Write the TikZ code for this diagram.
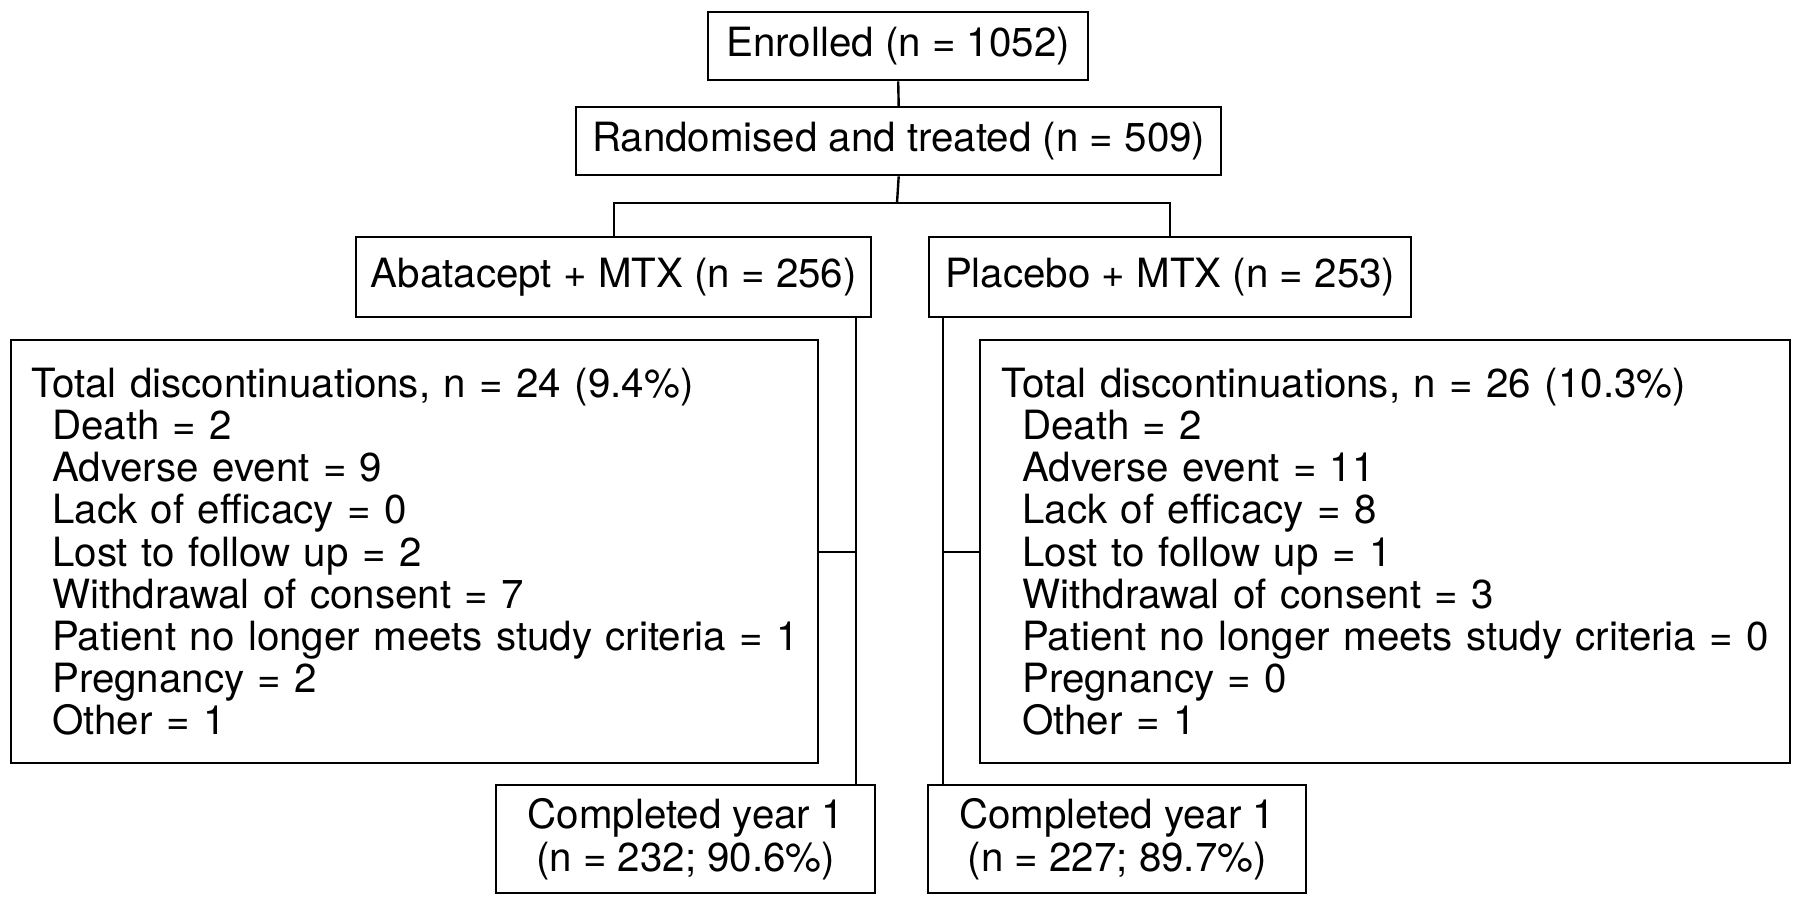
\documentclass[tikz,border=0pt]{standalone}
\usepackage{fontspec}
\setmainfont{TeX Gyre Heros}
\newcommand{\ind}[1]{\mbox{\hspace*{21pt}#1}}
\begin{document}
\begin{tikzpicture}[x=1pt,y=-1pt,
  box/.style={draw=black, line width=2.4pt, anchor=north west, inner sep=0pt,
    font=\fontsize{40.3pt}{42.1pt}\selectfont, align=center},
  discbox/.style={box, align=left, inner xsep=20pt},
  conn/.style={draw=black, line width=2.4pt}
]
\fill[white] (0,0) rectangle (1800,903);
\useasboundingbox (0,0) rectangle (1800,903);

\node[box, minimum width=380pt, minimum height=68pt] (enr) at (707,11) {Enrolled (n = 1052)};
\node[box, minimum width=645pt, minimum height=68pt] (rand) at (575,106) {Randomised and treated (n = 509)};
\node[box, minimum width=515pt, minimum height=80pt] (abat) at (355,236) {Abatacept + MTX (n = 256)};
\node[box, minimum width=482pt, minimum height=80pt] (plac) at (928,236) {Placebo + MTX (n = 253)};

\node[discbox, text width=767pt, minimum width=807pt, minimum height=423pt] (ldisc) at (10,339) {%
\mbox{Total discontinuations, n = 24 (9.4\%)}\\
\ind{Death = 2}\\
\ind{Adverse event = 9}\\
\ind{Lack of efficacy = 0}\\
\ind{Lost to follow up = 2}\\
\ind{Withdrawal of consent = 7}\\
\ind{Patient no longer meets study criteria = 1}\\
\ind{Pregnancy = 2}\\
\ind{Other = 1}};

\node[discbox, inner xsep=21pt, text width=768pt, minimum width=810pt, minimum height=423pt] (rdisc) at (979,339) {%
\mbox{Total discontinuations, n = 26 (10.3\%)}\\
\ind{Death = 2}\\
\ind{Adverse event = 11}\\
\ind{Lack of efficacy = 8}\\
\ind{Lost to follow up = 1}\\
\ind{Withdrawal of consent = 3}\\
\ind{Patient no longer meets study criteria = 0}\\
\ind{Pregnancy = 0}\\
\ind{Other = 1}};

\node[box, minimum width=379pt, minimum height=108pt] (compl) at (495,784) {Completed year 1\\(n = 232; 90.6\%)};
\node[box, minimum width=378pt, minimum height=108pt] (compr) at (927,784) {Completed year 1\\(n = 227; 89.7\%)};

\coordinate (split) at (897,203);
\coordinate (lx) at (856,0);
\coordinate (rx) at (943,0);

\draw[conn] (enr.south) -- (rand.north);
\draw[conn] (rand.south) -- (split);
\draw[conn] (abat.north) |- (split) -| (plac.north);
\draw[conn] (abat.south -| lx) -- (compl.north -| lx);
\draw[conn] (ldisc.east) -- (ldisc.east -| lx);
\draw[conn] (plac.south -| rx) -- (compr.north -| rx);
\draw[conn] (rdisc.west) -- (rdisc.west -| rx);
\end{tikzpicture}
\end{document}
